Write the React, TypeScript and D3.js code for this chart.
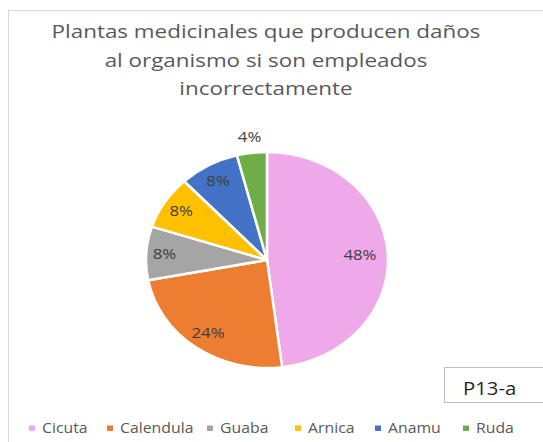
import React from "react";
import * as d3 from "d3";

const categories = ["Cicuta", "Calendula", "Guaba", "Arnica", "Anamu", "Ruda"];
const values = [48, 24, 8, 8, 8, 4];
const colors = ["#EFA8E9", "#ED7D31", "#A5A5A5", "#FFC000", "#4472C4", "#70AD47"];
const titleLines = [
  "Plantas medicinales que producen daños",
  "al organismo si son empleados",
  "incorrectamente",
];
const labelFractions = [0.77, 0.83, 0.85, 0.84, 0.84, 1.15];
const legendX = [29, 107, 207, 295, 375, 463];

const font = "'Open Sans', sans-serif";

function SText(props: {
  x: number; y: number; s: number; size: number; fill: string;
  anchor?: string; dy?: string; children: React.ReactNode;
}) {
  return (
    <text
      transform={`translate(${props.x},${props.y}) scale(${props.s},1)`}
      textAnchor={props.anchor || "start"}
      dy={props.dy}
      fontFamily={font}
      fontSize={props.size}
      fill={props.fill}
    >
      {props.children}
    </text>
  );
}

export default function App() {
  const W = 543, H = 442;
  const cx = 267, cy = 260, r = 108, sx = 1.12;
  const pie = d3.pie<number>().sort(null).value((d) => d)(values);
  const arc = d3.arc<d3.PieArcDatum<number>>().innerRadius(0).outerRadius(r);
  const total = d3.sum(values);
  return (
    <svg width={W} height={H} style={{ position: "absolute", left: 0, top: 0, background: "#fff" }}>
      <rect x={8.5} y={10.5} width={700} height={600} fill="#fff" stroke="#D9D9D9" strokeWidth={1} />
      {titleLines.map((t, i) => (
        <SText key={i} x={266} y={38 + i * 28.5} s={1.18} size={19} fill="#595959" anchor="middle">
          {t}
        </SText>
      ))}
      <g transform={`translate(${cx},${cy}) scale(${sx},1)`}>
        {pie.map((p, i) => (
          <path key={i} d={arc(p) || ""} fill={colors[i]} stroke="#fff" strokeWidth={2.5} vectorEffect="non-scaling-stroke" strokeLinejoin="round" />
        ))}
      </g>
      {pie.map((p, i) => {
        const a = (p.startAngle + p.endAngle) / 2;
        const f = labelFractions[i];
        const x = cx + Math.sin(a) * r * f * sx;
        const y = cy - Math.cos(a) * r * f;
        return (
          <SText key={i} x={x} y={y} dy="0.35em" s={1.16} size={14.5} fill="#404040" anchor="middle">
            {Math.round((p.value / total) * 100)}%
          </SText>
        );
      })}
      <rect x={444.5} y={367.5} width={120} height={35} fill="#fff" stroke="#BFBFBF" strokeWidth={1} />
      <SText x={463} y={395} s={1.16} size={17.5} fill="#262626">P13-a</SText>
      {categories.map((c, i) => (
        <g key={c}>
          <rect x={legendX[i]} y={425.5} width={6} height={5.5} fill={colors[i]} />
          <SText x={legendX[i] + 13} y={433} s={1.13} size={14} fill="#595959">{c}</SText>
        </g>
      ))}
    </svg>
  );
}
